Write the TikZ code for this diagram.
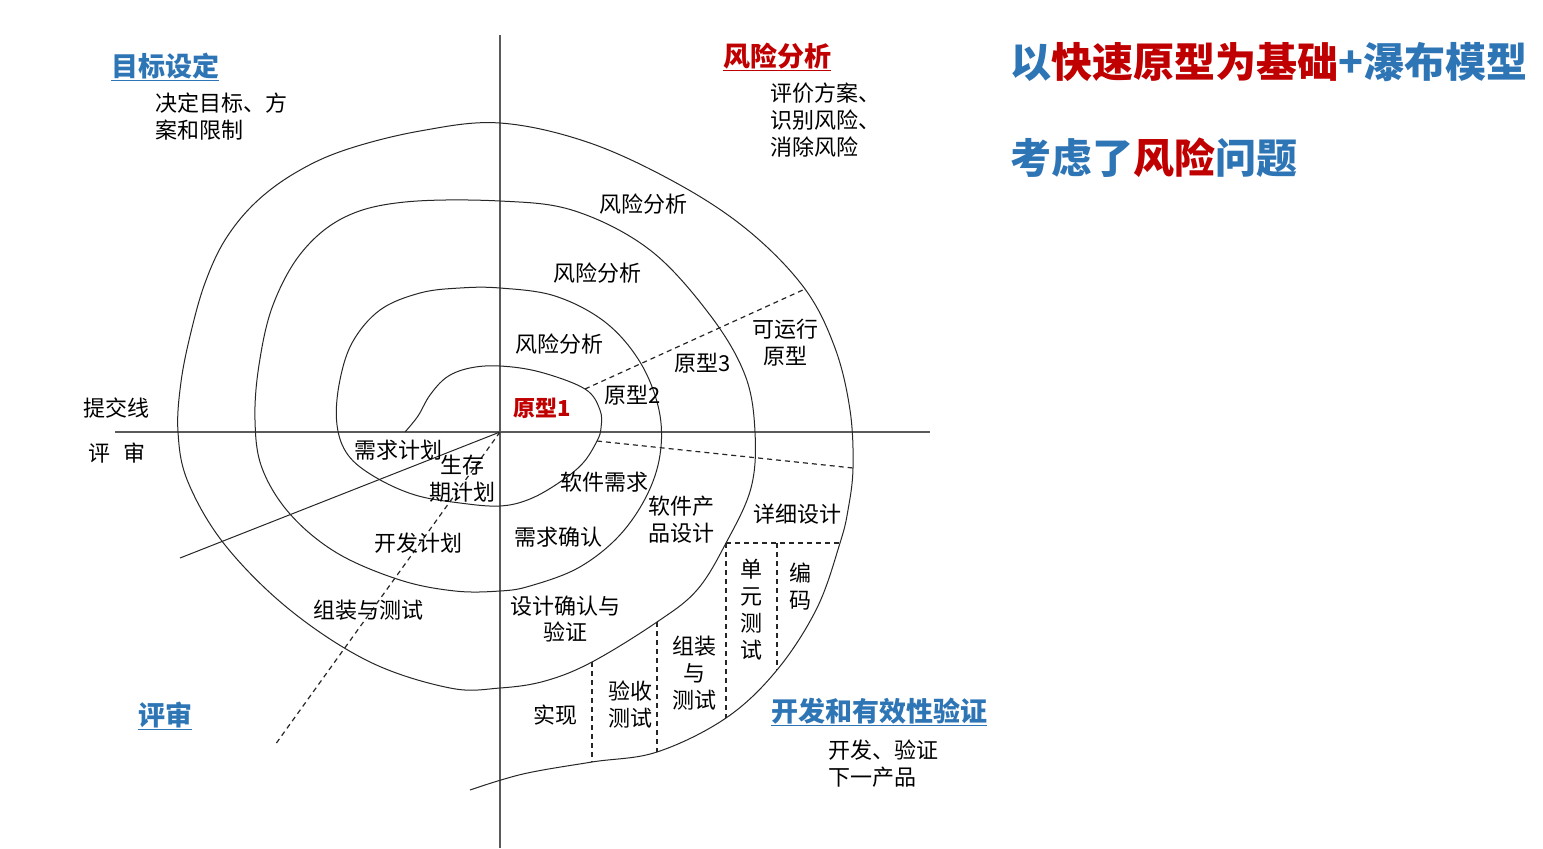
\documentclass[tikz,border=0pt]{standalone}
\usepackage{fontspec}
\setmainfont{Noto Sans CJK SC}
\definecolor{blueT}{RGB}{46,117,182}
\definecolor{redT}{RGB}{192,0,0}
\definecolor{axisC}{RGB}{90,90,90}
\begin{document}
\begin{tikzpicture}[x=1pt,y=-1pt,
  lbl/.style={font=\fontsize{22}{27}\selectfont, inner sep=0pt, align=center},
  llbl/.style={font=\fontsize{22}{27}\selectfont, inner sep=0pt, align=left, anchor=west},
  head/.style={font=\fontsize{27}{32}\selectfont\bfseries, inner sep=0pt},
  title/.style={font=\fontsize{41}{48}\selectfont\bfseries, inner sep=0pt, anchor=west},
  spiralline/.style={line width=1pt, black!85},
  axisline/.style={line width=1.4pt, axisC},
  dashline/.style={line width=1.2pt, black!85, dash pattern=on 5pt off 4pt}]
\useasboundingbox[fill=white] (0,0) rectangle (1543,849);

% axes
\coordinate (vTop) at (500,35);
\coordinate (vBot) at (500,848);
\coordinate (hL) at (115,432);
\coordinate (hR) at (930,432);
\draw[axisline] (vTop) -- (vBot);
\draw[axisline] (hL) -- (hR);

% spiral
\draw[spiralline] plot[smooth, tension=0.6] coordinates {
(405,432) (418,416) (430,395) (447,377) (470,368) (500,366) (540,372) (585,389)
(600,410) (601,428) (597,441) (583,463) (560,482) (530,499) (500,506) (460,503)
(415,495) (375,477) (348,455) (337,425) (339,385) (352,343) (380,310) (420,293)
(460,288) (500,288) (555,296) (605,322) (640,362) (659,410) (660,455) (646,497)
(618,537) (578,568) (530,586) (500,591) (455,591) (400,580) (337,553) (290,514)
(262,468) (255,420) (259,365) (273,305) (302,252) (345,217) (405,202) (500,201)
(575,211) (650,250) (710,315) (745,375) (755,432) (751,488) (726,543) (697,590)
(657,622) (592,662) (545,681) (500,688) (450,688) (370,662) (290,610) (225,545)
(188,482) (178,432) (181,382) (191,332) (205,283) (225,240) (255,203) (295,173)
(345,150) (420,131) (500,123) (590,143) (680,185) (750,232) (805,289) (835,348)
(850,410) (853,468) (848,510) (840,543) (817,608) (777,670) (726,718) (657,752)
(592,762) (523,774) (470,790)};

% named points on the spiral
\coordinate (O) at (500,432);
\coordinate (d1a) at (585,389);
\coordinate (d1b) at (805,289);
\coordinate (d2a) at (597,441);
\coordinate (d2b) at (853,468);
\coordinate (hA) at (726,543);
\coordinate (hB) at (840,543);
\coordinate (v1b) at (726,718);
\coordinate (v2a) at (777,543);
\coordinate (v2b) at (777,670);
\coordinate (v3a) at (657,622);
\coordinate (v3b) at (657,752);
\coordinate (v4a) at (592,662);
\coordinate (v4b) at (592,762);
\coordinate (llEnd) at (275,745);
\coordinate (slEnd) at (180,558);

\draw[dashline] (d1a) -- (d1b);
\draw[dashline] (d2a) -- (d2b);
\draw[dashline] (hA) -- (hB);
\draw[dashline] (hA) -- (v1b);
\draw[dashline] (v2a) -- (v2b);
\draw[dashline] (v3a) -- (v3b);
\draw[dashline] (v4a) -- (v4b);
\draw[dashline] (O) -- (llEnd);
\draw[spiralline] (O) -- (slEnd);

% headings
\node[head, text=blueT] (hGoal) at (165,67) {\underline{目标设定}};
\node[head, text=redT] (hRisk) at (777,57) {\underline{风险分析}};
\node[head, text=blueT] (hRev) at (165,716) {\underline{评审}};
\node[head, text=blueT] (hDev) at (879,712) {\underline{开发和有效性验证}};

\node[llbl] (tGoal) at (155,117) {决定目标、方\\案和限制};
\node[llbl] (tRisk) at (770,120) {评价方案、\\识别风险、\\消除风险};
\node[llbl] (tDev) at (828,764) {开发、验证\\下一产品};

% titles
\node[title] (title1) at (1010,62) {{\color{blueT}以}{\color{redT}快速原型为基础}{\color{blueT}+瀑布模型}};
\node[title] (title2) at (1010,158) {{\color{blueT}考虑了}{\color{redT}风险}{\color{blueT}问题}};

% labels
\node[lbl] (ra1) at (643,204) {风险分析};
\node[lbl] (ra2) at (597,273) {风险分析};
\node[lbl] (ra3) at (559,344) {风险分析};
\node[lbl, text=redT, font=\fontsize{22}{27}\selectfont\bfseries] (p1) at (542,408) {原型1};
\node[lbl] (p2) at (633,395) {原型2};
\node[lbl] (p3) at (703,363) {原型3};
\node[lbl] (p4) at (785,343) {可运行\\原型};
\node[lbl] (commit) at (116,408) {提交线};
\node[lbl] (review) at (117,453) {评\hspace{0.6em}审};
\node[lbl] (reqplan) at (398,450) {需求计划};
\node[lbl] (life) at (462,479) {生存\\期计划};
\node[lbl] (swreq) at (604,482) {软件需求};
\node[lbl] (swdes) at (681,520) {软件产\\品设计};
\node[lbl] (detail) at (797,514) {详细设计};
\node[lbl] (reqval) at (558,537) {需求确认};
\node[lbl] (devplan) at (418,543) {开发计划};
\node[lbl] (unit) at (751,610) {单\\元\\测\\试};
\node[lbl] (code) at (800,587) {编\\码};
\node[lbl] (integ1) at (368,610) {组装与测试};
\node[lbl] (desval) at (565,619) {设计确认与\\验证};
\node[lbl] (integ2) at (694,673) {组装\\与\\测试};
\node[lbl] (accept) at (630,705) {验收\\测试};
\node[lbl] (impl) at (555,715) {实现};
\end{tikzpicture}
\end{document}
